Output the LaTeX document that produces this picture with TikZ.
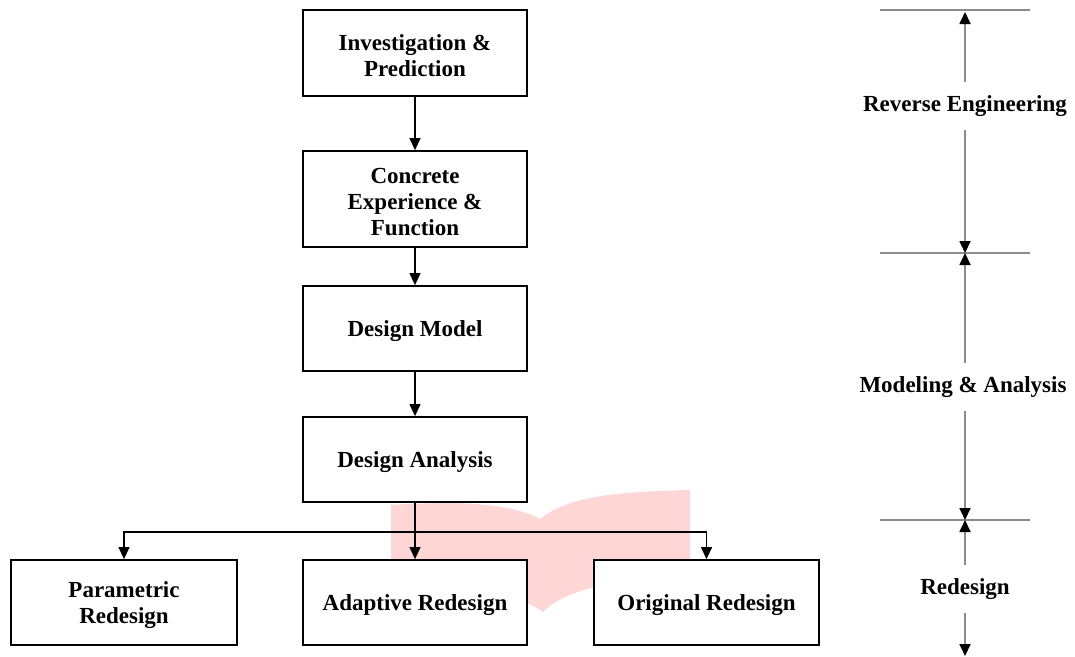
\documentclass[tikz,border=0pt]{standalone}
\usepackage{fontspec}
\setmainfont{Liberation Serif}
\usetikzlibrary{arrows.meta}
\definecolor{pinkbook}{RGB}{255,214,214}
\definecolor{rulegray}{RGB}{140,140,140}
\begin{document}
\begin{tikzpicture}[x=1pt,y=-1pt,
  txt/.style={align=center,inner sep=0pt,font=\fontsize{23}{26}\selectfont\bfseries},
  box/.style={draw=black,line width=1.8pt,fill=white,inner sep=0pt,
    label={[txt,yshift=-3pt]center:#1}},
  arr/.style={line width=1.2pt,-{Triangle[length=12pt,width=11pt]}},
  rarr/.style={draw=rulegray,line width=1.8pt,-{Triangle[length=12pt,width=11pt,fill=black,color=black]}},
  tick/.style={draw=rulegray,line width=1.8pt},
  lab/.style={txt,minimum height=48pt}]
\useasboundingbox (0,0) rectangle (1075,656);
\fill[white] (0,0) rectangle (1075,656);
% pink book watermark
\fill[pinkbook] (391,505) .. controls (440,502) and (505,500) .. (540,519)
  .. controls (570,495) and (620,492) .. (690,490) -- (690,580)
  .. controls (630,578) and (570,585) .. (543,612)
  .. controls (515,590) and (450,588) .. (391,610) -- cycle;
% main boxes
\node[box={Investigation \&\\Prediction},minimum width=224pt,minimum height=86pt] (b1) at (415,53) {};
\node[box={Concrete\\Experience \&\\Function},minimum width=224pt,minimum height=96pt] (b2) at (415,199) {};
\node[box={Design Model},minimum width=224pt,minimum height=85pt] (b3) at (415,328.5) {};
\node[box={Design Analysis},minimum width=224pt,minimum height=85pt] (b4) at (415,459.5) {};
\node[box={Parametric\\Redesign},minimum width=226pt,minimum height=85pt] (p) at (124,602.5) {};
\node[box={Adaptive Redesign},minimum width=224pt,minimum height=85pt] (a) at (415,602.5) {};
\node[box={Original Redesign},minimum width=225pt,minimum height=85pt] (o) at (706.5,602.5) {};
\draw[arr] (b1) -- (b2);
\draw[arr] (b2) -- (b3);
\draw[arr] (b3) -- (b4);
\draw[arr] (b4) -- (a);
\coordinate (br) at (415,532);
\draw[arr] (br) -| (p.north);
\draw[arr] (br) -| (o.north);
% right side
\coordinate (t1l) at (880,10);  \coordinate (t1r) at (1030,10);
\coordinate (t2l) at (880,253); \coordinate (t2r) at (1030,253);
\coordinate (t3l) at (880,520); \coordinate (t3r) at (1030,520);
\coordinate (top) at (965,12);
\coordinate (m1) at (965,253);
\coordinate (m2) at (965,520);
\coordinate (bot) at (965,656);
\draw[tick] (t1l) -- (t1r);
\draw[tick] (t2l) -- (t2r);
\draw[tick] (t3l) -- (t3r);
\node[lab] (re) at (965,106) {Reverse Engineering};
\node[lab] (ma) at (963,387) {Modeling \& Analysis};
\node[lab] (rd) at (965,589) {Redesign};
\draw[rarr] (re.north -| top) -- (top);
\draw[rarr] (re.south -| top) -- (m1);
\draw[rarr] (ma.north -| m1) -- (m1);
\draw[rarr] (ma.south -| m1) -- (m2);
\draw[rarr] (rd.north -| m2) -- (m2);
\draw[rarr] (rd.south -| m2) -- (bot);
\end{tikzpicture}
\end{document}
